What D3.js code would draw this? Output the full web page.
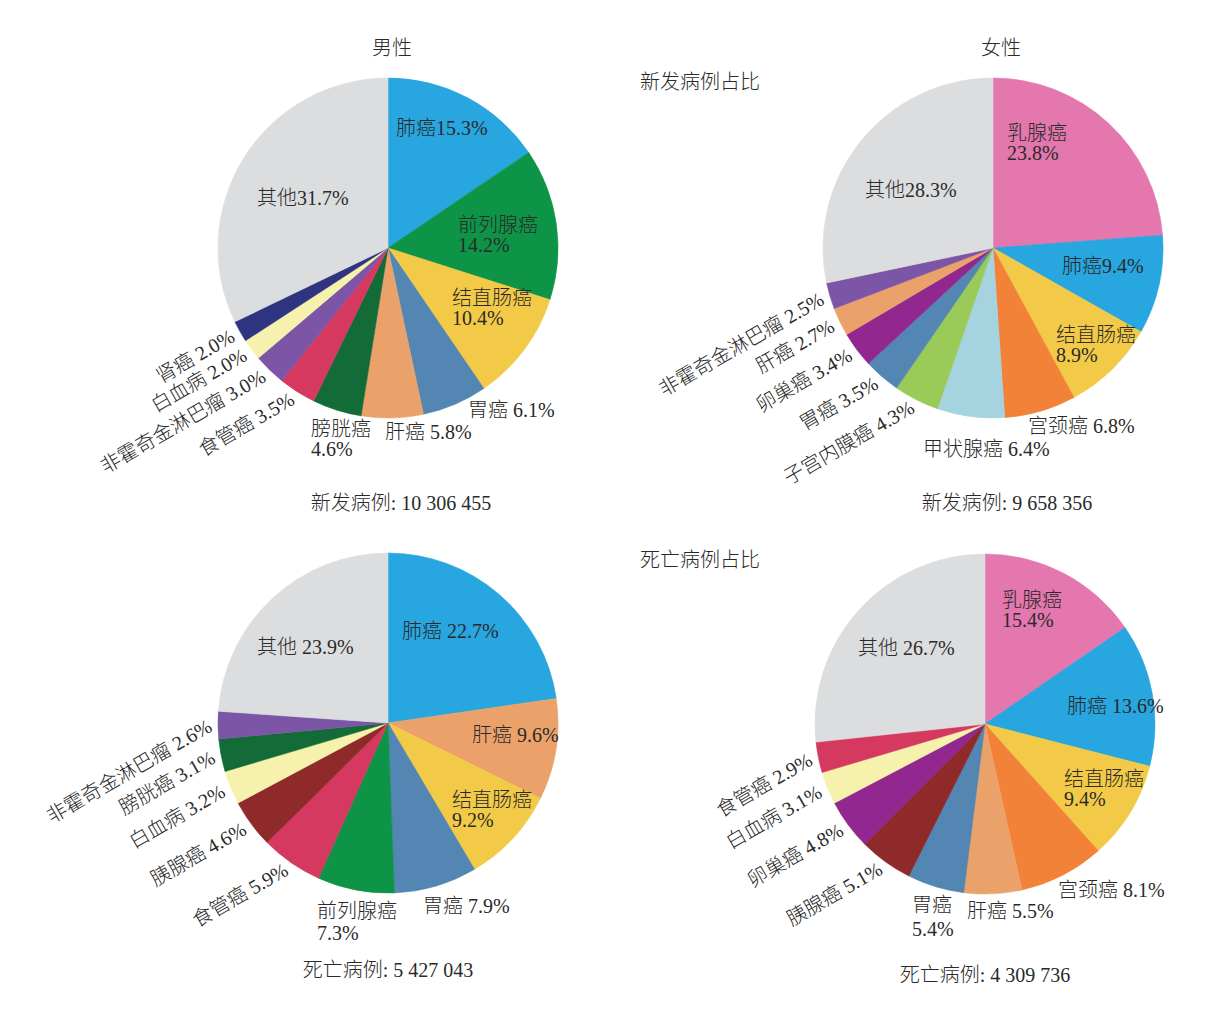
<!DOCTYPE html>
<html><head><meta charset="utf-8">
<script src="https://cdn.jsdelivr.net/npm/d3@7/dist/d3.min.js"></script>
<style>
html,body{margin:0;padding:0;background:#fff;}
text{font-family:"Liberation Serif","Noto Sans CJK SC",serif;fill:#2a2a2a;font-weight:300;}
</style></head>
<body>
<script>
// ---------- data ----------
const maleNewCats = ["肺癌","前列腺癌","结直肠癌","胃癌","肝癌","膀胱癌","食管癌","非霍奇金淋巴瘤","白血病","肾癌","其他"];
const maleNewVals = [15.3,14.2,10.4,6.1,5.8,4.6,3.5,3.0,2.0,2.0,31.7];

const femaleNewCats = ["乳腺癌","肺癌","结直肠癌","宫颈癌","甲状腺癌","子宫内膜癌","胃癌","卵巢癌","肝癌","非霍奇金淋巴瘤","其他"];
const femaleNewVals = [23.8,9.4,8.9,6.8,6.4,4.3,3.5,3.4,2.7,2.5,28.3];

const maleDeathCats = ["肺癌","肝癌","结直肠癌","胃癌","前列腺癌","食管癌","胰腺癌","白血病","膀胱癌","非霍奇金淋巴瘤","其他"];
const maleDeathVals = [22.7,9.6,9.2,7.9,7.3,5.9,4.6,3.2,3.1,2.6,23.9];

const femaleDeathCats = ["乳腺癌","肺癌","结直肠癌","宫颈癌","肝癌","胃癌","胰腺癌","卵巢癌","白血病","食管癌","其他"];
const femaleDeathVals = [15.4,13.6,9.4,8.1,5.5,5.4,5.1,4.8,3.1,2.9,26.7];

const totalLabels = ["新发病例: 10 306 455","新发病例: 9 658 356","死亡病例: 5 427 043","死亡病例: 4 309 736"];
const sexTitles = ["男性","女性"];
const rowTitles = ["新发病例占比","死亡病例占比"];

// ---------- style ----------
const colors = {
  "其他":"#DCDDDF","肺癌":"#27A6E0","前列腺癌":"#0E9447","结直肠癌":"#F2CA47",
  "胃癌":"#5386B2","肝癌":"#EBA26A","膀胱癌":"#136B37","食管癌":"#D5395F",
  "非霍奇金淋巴瘤":"#7D55A6","白血病":"#F6F1AC","肾癌":"#2E3480","乳腺癌":"#E377AE",
  "宫颈癌":"#F28238","甲状腺癌":"#A5D3E0","子宫内膜癌":"#9ACB58","卵巢癌":"#92278F",
  "胰腺癌":"#8F2A2B"
};
const R = 170;
const FS = 20;

// label layouts (offsets from pie centre); slices not listed get rotated outside labels
const layouts = [
  { // male new
    "肺癌":{x:8,y:-113,sep:""},
    "前列腺癌":{x:70,y:-16,split:true,gap:20},
    "结直肠癌":{x:64,y:57,split:true,gap:20},
    "胃癌":{x:80,y:169},
    "肝癌":{x:-3,y:191},
    "膀胱癌":{x:-77,y:188,split:true,gap:20},
    "其他":{x:-131,y:-43,sep:""}
  },
  { // female new
    "乳腺癌":{x:14,y:-108,split:true,gap:20},
    "肺癌":{x:69,y:25,sep:""},
    "结直肠癌":{x:63,y:94,split:true,gap:20},
    "宫颈癌":{x:35,y:185},
    "甲状腺癌":{x:-70,y:208},
    "其他":{x:-128,y:-51,sep:""}
  },
  { // male death
    "肺癌":{x:14,y:-85},
    "肝癌":{x:84,y:19},
    "结直肠癌":{x:64,y:84,split:true,gap:20},
    "胃癌":{x:35,y:190},
    "前列腺癌":{x:-71,y:195,split:true,gap:22},
    "其他":{x:-131,y:-69}
  },
  { // female death
    "乳腺癌":{x:17,y:-117,split:true,gap:20},
    "肺癌":{x:82,y:-11},
    "结直肠癌":{x:79,y:62,split:true,gap:20},
    "宫颈癌":{x:73,y:173},
    "肝癌":{x:-18,y:194},
    "胃癌":{x:-73,y:188,split:true,gap:24},
    "其他":{x:-127,y:-69}
  }
];

const charts = [
  {cats:maleNewCats, vals:maleNewVals, cx:388, cy:248},
  {cats:femaleNewCats, vals:femaleNewVals, cx:993, cy:248},
  {cats:maleDeathCats, vals:maleDeathVals, cx:388, cy:723},
  {cats:femaleDeathCats, vals:femaleDeathVals, cx:985, cy:724}
];
const totalPos = [[401,510],[1007,510],[388,977],[985,982]];

const svg = d3.select("body").append("svg").attr("width",1207).attr("height",1034);

const pie = d3.pie().sort(null).value(d=>d.v);
const arc = d3.arc().innerRadius(0).outerRadius(R);

charts.forEach((c,ci)=>{
  const data = c.cats.map((k,i)=>({k, v:c.vals[i]}));
  const arcs = pie(data);
  const g = svg.append("g").attr("transform",`translate(${c.cx},${c.cy})`);
  g.selectAll("path").data(arcs).enter().append("path")
    .attr("d",arc)
    .attr("fill",d=>colors[d.data.k])
    .attr("stroke",d=>colors[d.data.k])
    .attr("stroke-width",0.6);

  const lay = layouts[ci];
  arcs.forEach(a=>{
    const k = a.data.k;
    const pct = a.data.v.toFixed(1)+"%";
    const L = lay[k];
    if(L){
      const sep = L.sep!==undefined ? L.sep : " ";
      const t = g.append("text").attr("font-size",FS).attr("text-anchor","start");
      if(L.split){
        t.append("tspan").attr("x",L.x).attr("y",L.y).text(k);
        t.append("tspan").attr("x",L.x).attr("y",L.y+L.gap).text(pct);
      } else {
        t.attr("x",L.x).attr("y",L.y).text(k+sep+pct);
      }
    } else {
      const mid = (a.startAngle+a.endAngle)/2;
      const rr = R*1.045;
      const px = Math.sin(mid)*rr, py = -Math.cos(mid)*rr;
      g.append("text").attr("font-size",FS).attr("text-anchor","end")
        .attr("transform",`translate(${px},${py}) rotate(-30)`)
        .attr("dy","0.3em")
        .text(k+" "+pct);
    }
  });

  svg.append("text").attr("x",totalPos[ci][0]).attr("y",totalPos[ci][1])
    .attr("text-anchor","middle").attr("font-size",FS).text(totalLabels[ci]);
});

// titles
svg.append("text").attr("x",392).attr("y",55).attr("text-anchor","middle").attr("font-size",FS).text(sexTitles[0]);
svg.append("text").attr("x",1001).attr("y",55).attr("text-anchor","middle").attr("font-size",FS).text(sexTitles[1]);
svg.append("text").attr("x",700).attr("y",89).attr("text-anchor","middle").attr("font-size",FS).text(rowTitles[0]);
svg.append("text").attr("x",700).attr("y",567).attr("text-anchor","middle").attr("font-size",FS).text(rowTitles[1]);
</script>
</body></html>
